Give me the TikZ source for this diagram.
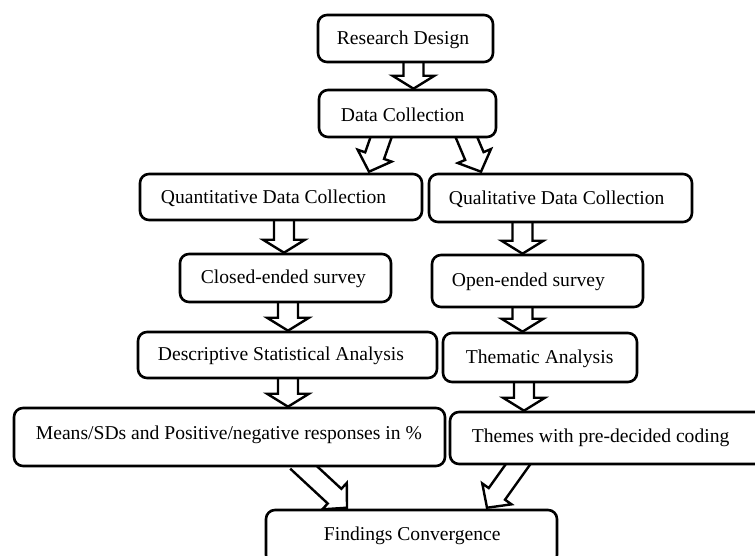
\documentclass[tikz,border=0pt]{standalone}
\usepackage{fontspec}
\setmainfont{Liberation Serif}
\usetikzlibrary{calc}
\pgfdeclarelayer{bg}
\pgfdeclarelayer{paper}
\pgfsetlayers{paper,bg,main}
\tikzset{
  box/.style={draw, line width=2.6pt, rounded corners=9pt, fill=white, inner sep=0pt},
  lbl/.style={anchor=west, inner sep=0pt, font=\fontsize{19.6}{22}\selectfont},
  barr/.style={draw, line width=2.4pt, fill=white, line join=miter},
}
% tail, tip, head half width, head length
\newcommand{\blockarr}[4]{%
  \path (#1) coordinate (t0) (#2) coordinate (t1);
  \path ($(t1)!#4!(t0)$) coordinate (nk);
  \draw[barr] ($(t0)!10pt!90:(t1)$) -- ($(nk)!10pt!-90:(t0)$) -- ($(nk)!#3!-90:(t0)$) -- (t1) -- ($(nk)!#3!90:(t0)$) -- ($(nk)!10pt!90:(t0)$) -- ($(t0)!10pt!-90:(t1)$);
}
\newcommand{\barrow}[2]{\blockarr{#1}{#2}{21pt}{13pt}}
\newcommand{\darrow}[2]{\blockarr{#1}{#2}{18pt}{17pt}}
\begin{document}
\begin{tikzpicture}[x=1pt, y=-1pt]
\begin{pgfonlayer}{paper}
\fill[white] (0,0) rectangle (755,555);
\end{pgfonlayer}
\useasboundingbox (0,0) rectangle (755,555);
% boxes
\node[box, minimum width=175pt, minimum height=47pt] (rd) at (405.5,38.5) {};
\node[box, minimum width=177pt, minimum height=47pt] (dc) at (407.5,113.5) {};
\node[box, minimum width=282pt, minimum height=46pt] (qn) at (281,197) {};
\node[box, minimum width=263pt, minimum height=48pt] (ql) at (560.5,198) {};
\node[box, minimum width=211pt, minimum height=48pt] (ces) at (285.5,278) {};
\node[box, minimum width=211pt, minimum height=52pt] (oes) at (537.5,281) {};
\node[box, minimum width=299pt, minimum height=46pt] (dsa) at (287.5,355) {};
\node[box, minimum width=194pt, minimum height=49pt] (ta) at (540,357.5) {};
\node[box, minimum width=431pt, minimum height=58pt] (ms) at (229.5,437) {};
\node[box, minimum width=320pt, minimum height=52pt] (th) at (610,438) {};
\node[box, minimum width=291pt, minimum height=54pt] (fc) at (411.5,537) {};
% labels
\node[lbl] at ([xshift=20pt,yshift=-1pt]rd.west) {Research Design};
\node[lbl] at ([xshift=23pt,yshift=-1pt]dc.west) {Data Collection};
\node[lbl] at ([xshift=22pt,yshift=-1pt]qn.west) {Quantitative Data Collection};
\node[lbl] at ([xshift=21pt,yshift=-1pt]ql.west) {Qualitative Data Collection};
\node[lbl] at ([xshift=22pt,yshift=-1pt]ces.west) {Closed-ended survey};
\node[lbl] at ([xshift=21pt,yshift=-1pt]oes.west) {Open-ended survey};
\node[lbl] at ([xshift=21pt,yshift=-1pt]dsa.west) {Descriptive Statistical Analysis};
\node[lbl] at ([xshift=24pt,yshift=-1pt]ta.west) {Thematic Analysis};
\node[lbl] at ([xshift=23pt,yshift=2pt]ms.west) {Means/SDs and Positive/negative responses in \%};
\node[lbl] at ([xshift=23pt]th.west) {Themes with pre-decided coding};
\node[lbl] at ([xshift=59pt,yshift=1pt]fc.west) {Findings Convergence};
% block arrows
\begin{pgfonlayer}{bg}
\barrow{$(rd.south)+(8,-8)$}{$(dc.north)+(6,0)$}
\darrow{$(dc.south)+(-24,-8)$}{$(qn.north)+(88,-1)$}
\darrow{$(dc.south)+(56,-8)$}{$(ql.north)+(-79.5,-1)$}
\barrow{$(qn.south)+(3,-8)$}{$(ces.north)+(-1.5,0)$}
\barrow{$(ql.south)+(-38,-8)$}{$(oes.north)+(-15,0)$}
\barrow{$(ces.south)+(2.5,-8)$}{$(dsa.north)+(0.5,0)$}
\barrow{$(oes.south)+(-15,-8)$}{$(ta.north)+(-17.5,0)$}
\barrow{$(dsa.south)+(0.5,-8)$}{$(ms.north)+(58.5,0)$}
\barrow{$(ta.south)+(-16,-8)$}{$(th.north)+(-86,0)$}
\darrow{$(ms.south)+(67.5,-6)$}{$(fc.north)+(-64.5,-1)$}
\darrow{$(th.south)+(-87,-8)$}{$(fc.north)+(75.5,-1)$}
\end{pgfonlayer}
\end{tikzpicture}
\end{document}
